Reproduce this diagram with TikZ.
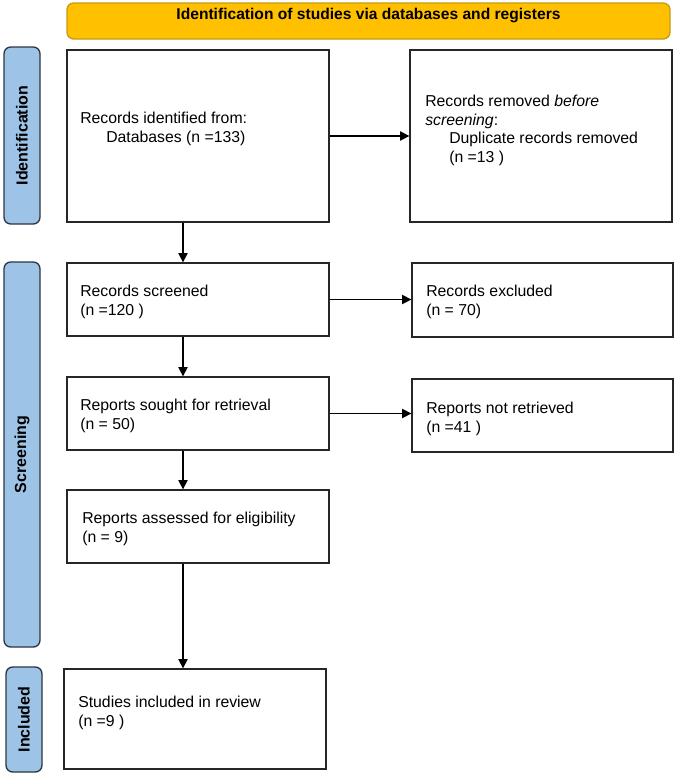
\documentclass[tikz,border=0pt]{standalone}
\usepackage{fontspec}
\setmainfont{Liberation Sans}
\usetikzlibrary{fit,arrows.meta}
\definecolor{bannerfill}{HTML}{FFC000}
\definecolor{bannerline}{HTML}{C99A12}
\definecolor{sidefill}{HTML}{9DC3E6}
\definecolor{sideline}{HTML}{2B3544}
\begin{document}
\begin{tikzpicture}[x=0.75pt,y=-0.75pt,
  box/.style={draw=black!85,line width=1pt,fill=white,inner sep=0pt},
  banner/.style={draw=bannerline,line width=1pt,fill=bannerfill,rounded corners=5pt,inner sep=0pt,
    font=\fontsize{11.7pt}{14pt}\selectfont\bfseries},
  side/.style={draw=sideline,line width=1pt,fill=sidefill,rounded corners=5pt,inner sep=0pt},
  sidetext/.style={rotate=90,font=\fontsize{12pt}{14pt}\selectfont\bfseries,inner sep=0pt},
  txt/.style={anchor=north west,align=left,inner sep=0pt,font=\fontsize{11.85pt}{14.1pt}\selectfont},
  arr/.style={line width=1.1pt,-{Triangle[length=7pt,width=7pt]}}]
\useasboundingbox (0,0) rectangle (677,776);
% banner
\node[banner,fit={(67,3) (670,39)}] (ban) {Identification of studies via databases and registers};
% side labels
\node[side,fit={(4,47) (40,224)}] (sid) {};
\node[sidetext] (sidt) at (sid.center) {Identification};
\node[side,fit={(4,262) (40,647)}] (ssc) {};
\node[sidetext] (ssct) at (ssc.center) {Screening};
\node[side,fit={(6,667) (42,772)}] (sin) {};
\node[sidetext] (sint) at (sin.center) {Included};
% boxes
\node[box,fit={(67,50) (329,222)}] (b1) {};
\node[box,fit={(410,50) (672,222)}] (b2) {};
\node[box,fit={(67,263) (329,336)}] (b3) {};
\node[box,fit={(412,263) (673,337)}] (b3r) {};
\node[box,fit={(67,377) (329,450)}] (b4) {};
\node[box,fit={(412,379) (673,452)}] (b4r) {};
\node[box,fit={(67,490) (329,563)}] (b5) {};
\node[box,fit={(64,669) (326,769)}] (b6) {};
% texts
\node[txt] (t1) at (80,111.5) {Records identified from:\\\hspace*{19.5pt}Databases (n =133)};
\node[txt] (t2) at (425,94.5) {Records removed \textit{before}\\\textit{screening}:\\\hspace*{18pt}Duplicate records removed\\\hspace*{18pt}(n =13 )};
\node[txt] (t3) at (80,284.5) {Records screened\\(n =120 )};
\node[txt] (t3r) at (426,284.5) {Records excluded\\(n = 70)};
\node[txt] (t4) at (80,398.5) {Reports sought for retrieval\\(n = 50)};
\node[txt] (t4r) at (426,401.5) {Reports not retrieved\\(n =41 )};
\node[txt] (t5) at (82,511.5) {Reports assessed for eligibility\\(n = 9)};
\node[txt] (t6) at (78,695.5) {Studies included in review\\(n =9 )};
% arrows
\coordinate (ax) at (183,0);
\draw[arr] (b1.south -| ax) -- (b3.north -| ax);
\draw[arr] (b3.south -| ax) -- (b4.north -| ax);
\draw[arr] (b4.south -| ax) -- (b5.north -| ax);
\draw[arr] (b5.south -| ax) -- (b6.north -| ax);
\draw[arr] (b1.east) -- (b1.east -| b2.west);
\draw[arr] (b3.east) -- (b3.east -| b3r.west);
\draw[arr] (b4.east) -- (b4.east -| b4r.west);
\end{tikzpicture}
\end{document}
